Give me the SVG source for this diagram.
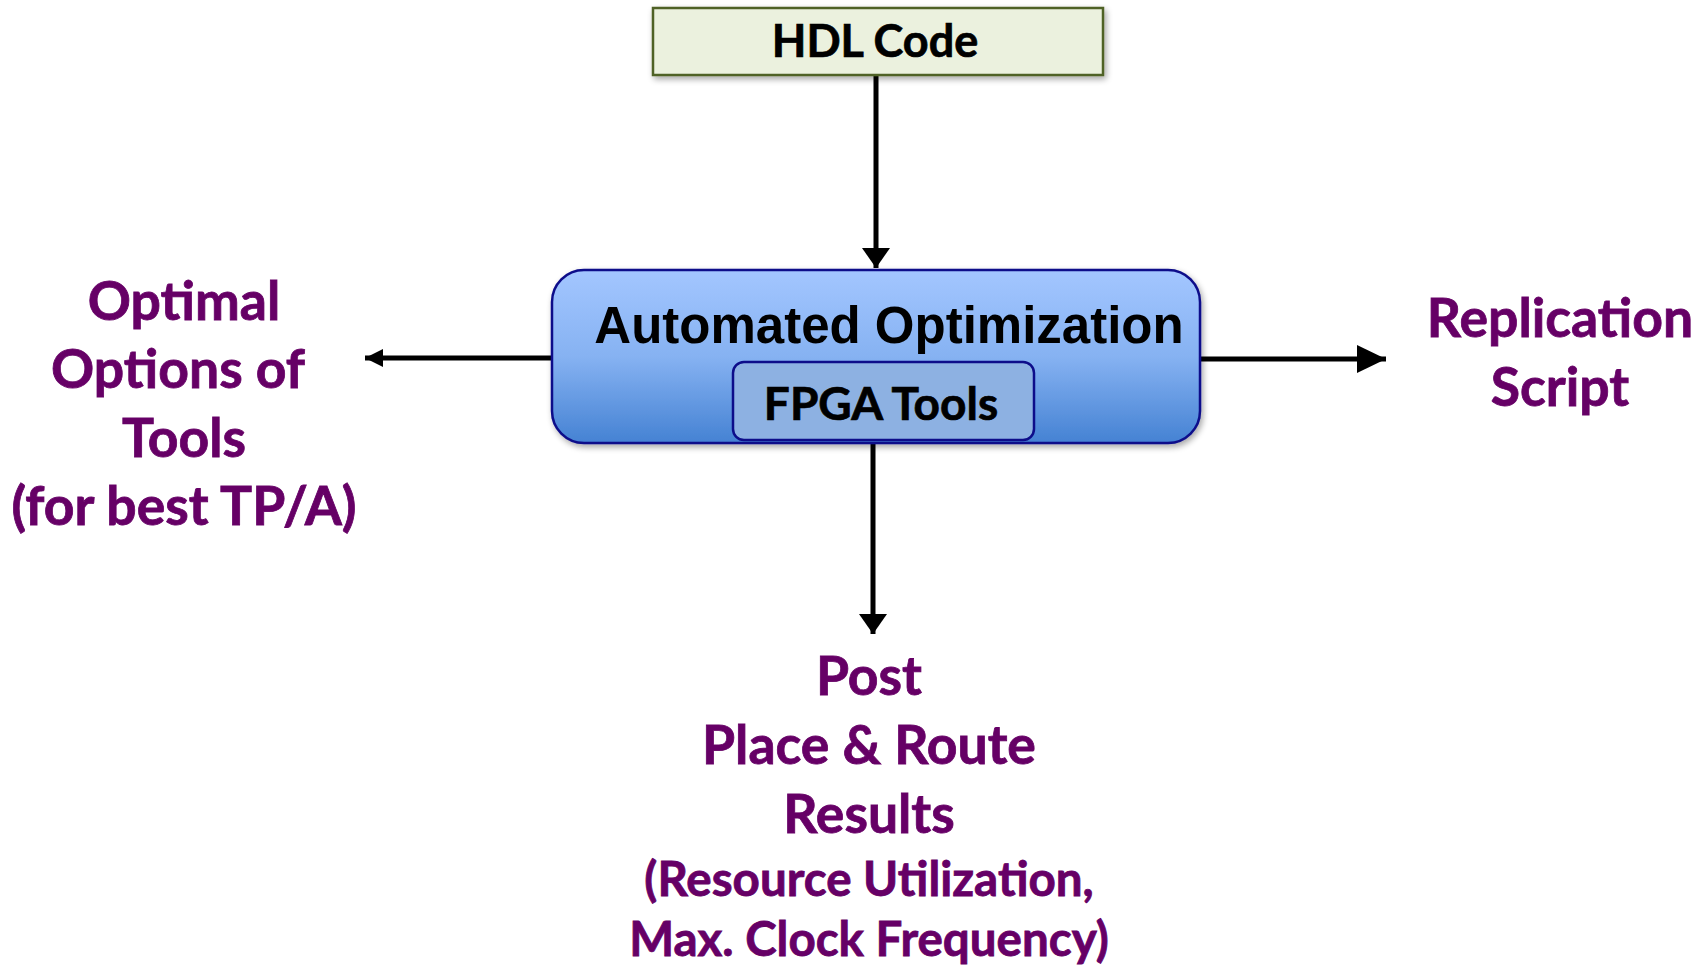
<svg xmlns="http://www.w3.org/2000/svg" width="1705" height="967" viewBox="0 0 1705 967">
<defs>
<linearGradient id="gBlue" x1="0" y1="0" x2="0" y2="1">
<stop offset="0" stop-color="#a3c6ff"/>
<stop offset="0.5" stop-color="#86b2f2"/>
<stop offset="1" stop-color="#4582d3"/>
</linearGradient>
<filter id="sh" x="-10%" y="-10%" width="120%" height="130%">
<feGaussianBlur in="SourceAlpha" stdDeviation="3"/>
<feOffset dx="2" dy="3" result="b"/>
<feComponentTransfer><feFuncA type="linear" slope="0.35"/></feComponentTransfer>
<feMerge><feMergeNode/><feMergeNode in="SourceGraphic"/></feMerge>
</filter>
<marker id="ahR" markerWidth="29" markerHeight="28" refX="29" refY="14" orient="auto" markerUnits="userSpaceOnUse" viewBox="0 0 29 28">
<path d="M0,0 L29,14 L0,28 Z" fill="#000"/>
</marker>
<marker id="ahV" markerWidth="20" markerHeight="28" refX="20" refY="14" orient="auto" markerUnits="userSpaceOnUse" viewBox="0 0 20 28">
<path d="M0,0 L20,14 L0,28 Z" fill="#000"/>
</marker>
<marker id="ahS" markerWidth="18" markerHeight="18" refX="18" refY="9" orient="auto" markerUnits="userSpaceOnUse" viewBox="0 0 18 18">
<path d="M0,0 L18,9 L0,18 Z" fill="#000"/>
</marker>
</defs>
<style>
.lbl{font-family:Lato,"Liberation Sans",sans-serif;font-weight:bold;fill:#660066;stroke:#660066;stroke-width:0.8;text-anchor:middle}
.blk{font-family:Lato,"Liberation Sans",sans-serif;font-weight:bold;fill:#000;stroke:#000;stroke-width:0.7;text-anchor:middle}
.conn{stroke:#000;stroke-width:5;fill:none}
</style>
<rect width="1705" height="967" fill="#fff"/>

<g id="connectors">
<line class="conn" x1="876" y1="75" x2="876" y2="268" marker-end="url(#ahV)"/>
<line class="conn" x1="552" y1="358" x2="365" y2="358" marker-end="url(#ahS)"/>
<line class="conn" x1="1200" y1="359" x2="1386" y2="359" marker-end="url(#ahR)"/>
<line class="conn" x1="873" y1="443" x2="873" y2="634" marker-end="url(#ahV)"/>
</g>

<g id="hdl">
<rect x="653" y="8" width="450" height="67" fill="#ebf1de" stroke="#4f6228" stroke-width="2.5" filter="url(#sh)"/>
<text class="blk" x="875" y="57" font-size="45">HDL Code</text>
</g>

<g id="auto">
<rect x="552" y="270" width="648" height="173" rx="32" fill="url(#gBlue)" stroke="#0d0d8a" stroke-width="2.5" filter="url(#sh)"/>
<text x="889" y="343" font-family="'Liberation Sans',Arial,sans-serif" font-weight="bold" font-size="51" text-anchor="middle" fill="#000">Automated Optimization</text>
</g>

<g id="fpga">
<rect x="733" y="362" width="301" height="78" rx="11" fill="#8db1e2" stroke="#0d0d8a" stroke-width="2.5"/>
<text class="blk" x="881" y="420" font-size="46">FPGA Tools</text>
</g>

<g id="optimal">
<text class="lbl" font-size="53.5"><tspan x="184" y="320">Optimal</tspan><tspan x="178" y="388">Options of</tspan><tspan x="184" y="457">Tools</tspan><tspan x="184" y="525">(for best TP/A)</tspan></text>
</g>

<g id="replication">
<text class="lbl" font-size="53.5"><tspan x="1560" y="337">Replication</tspan><tspan x="1560" y="406">Script</tspan></text>
</g>

<g id="results">
<text class="lbl" font-size="53.5"><tspan x="869" y="695">Post</tspan><tspan x="869" y="764">Place &amp; Route</tspan><tspan x="869" y="833">Results</tspan></text>
<text class="lbl" font-size="47.5"><tspan x="869" y="896">(Resource Utilization,</tspan><tspan x="869" y="956">Max. Clock Frequency)</tspan></text>
</g>
</svg>
